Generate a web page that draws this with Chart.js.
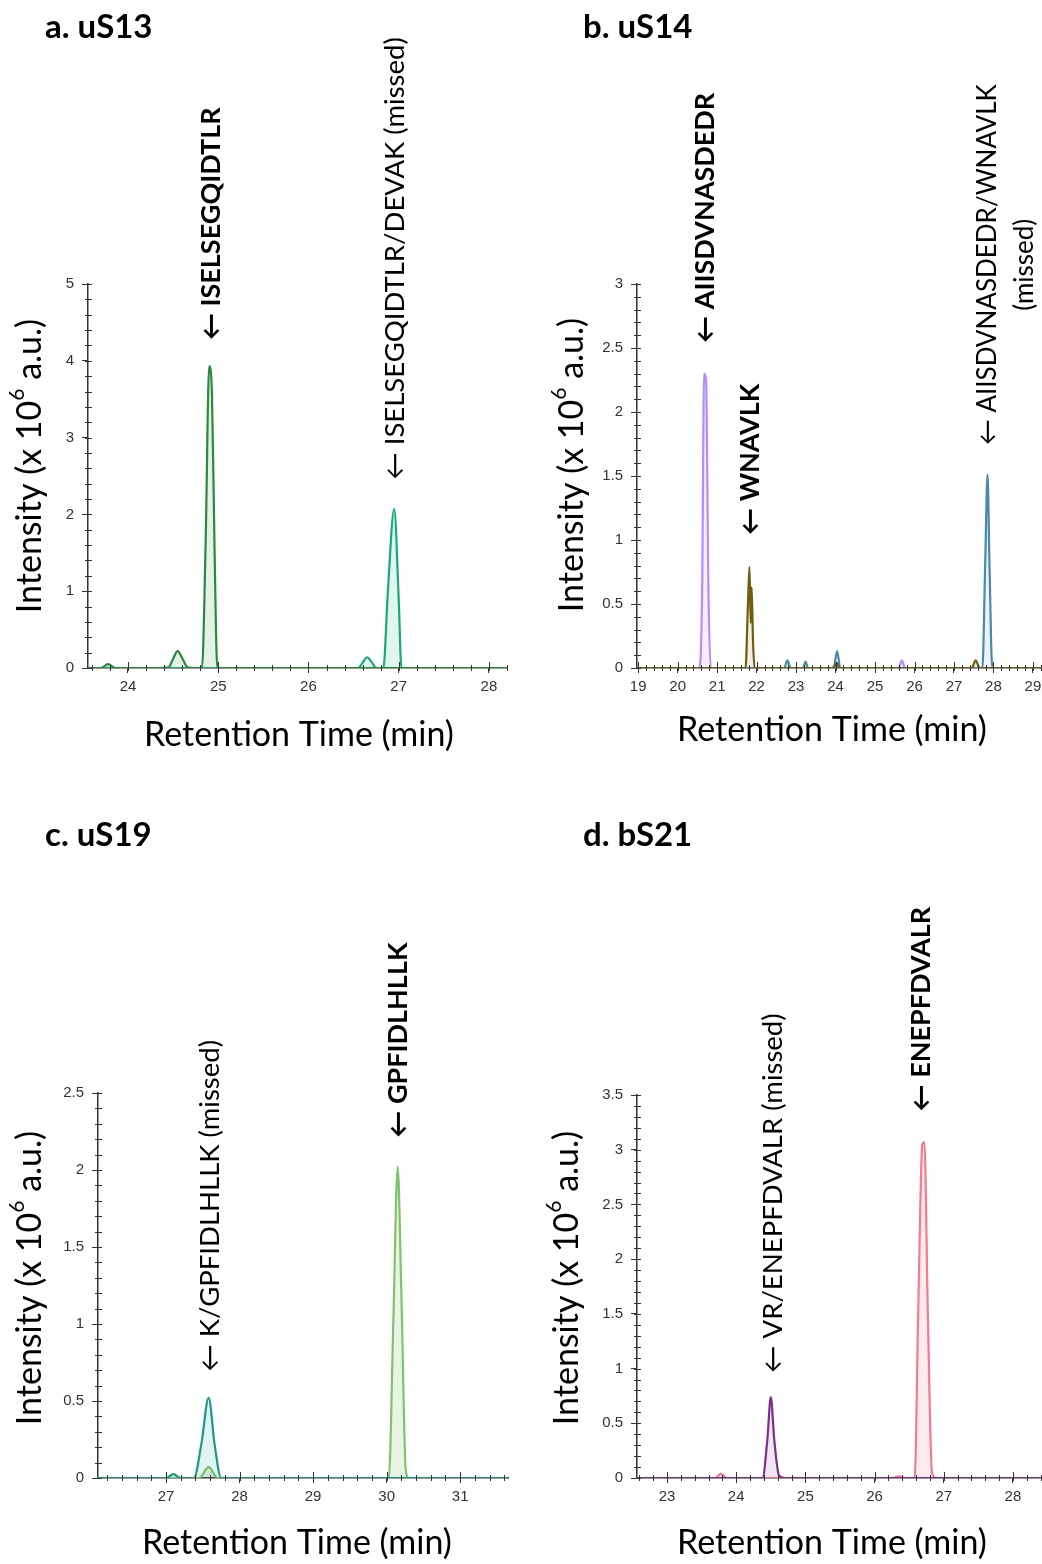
<!DOCTYPE html>
<html>
<head>
<meta charset="utf-8">
<script src="https://cdn.jsdelivr.net/npm/chart.js@4.4.0/dist/chart.umd.min.js"></script>
<style>
  html, body { margin: 0; padding: 0; background: #fff; }
  #wrap { position: relative; width: 1042px; height: 1564px; overflow: hidden; }
  #wrap canvas { position: absolute; }
</style>
</head>
<body>
<div id="wrap">
  <canvas id="panelA" width="521" height="782" style="left:0;top:0"></canvas>
  <canvas id="panelB" width="521" height="782" style="left:521px;top:0"></canvas>
  <canvas id="panelC" width="521" height="782" style="left:0;top:782px"></canvas>
  <canvas id="panelD" width="521" height="782" style="left:521px;top:782px"></canvas>
</div>
<script>
// ---------- a. uS13 ----------
const aTicksX = [24, 25, 26, 27, 28];
const aTicksY = [0, 1, 2, 3, 4, 5];
const aTimeMain = [23.56, 23.7, 23.78, 23.86, 24.0, 24.3, 24.45, 24.5, 24.55, 24.6, 24.66, 24.75, 24.82, 24.86, 24.9, 24.93, 24.96, 24.99, 25.05, 25.5, 26.0, 26.5, 27.0, 27.5, 28.2];
const aIntMain  = [0, 0, 0.05, 0, 0, 0, 0.01, 0.12, 0.22, 0.13, 0.01, 0, 0, 1.6, 3.93, 3.6, 1.5, 0, 0, 0, 0, 0, 0, 0, 0];
const aTimeMissed = [23.56, 24.0, 24.5, 25.0, 25.5, 26.0, 26.55, 26.6, 26.65, 26.7, 26.75, 26.83, 26.88, 26.95, 27.0, 27.03, 27.5, 28.2];
const aIntMissed  = [0, 0, 0, 0, 0, 0, 0, 0.07, 0.14, 0.08, 0, 0, 1.0, 2.07, 0.9, 0, 0, 0];

// ---------- b. uS14 ----------
const bTicksX = [19, 20, 21, 22, 23, 24, 25, 26, 27, 28, 29];
const bTicksY = [0, 0.5, 1, 1.5, 2, 2.5, 3];
const bTimeAiis = [18.97, 20.0, 20.55, 20.62, 20.67, 20.72, 20.78, 20.84, 22.0, 23.9, 24.0, 24.1, 25.6, 25.68, 25.76, 27.0, 29.23];
const bIntAiis  = [0, 0, 0, 0.6, 2.3, 2.25, 0.6, 0, 0, 0, 0.03, 0, 0, 0.06, 0, 0, 0];
const bTimeWnav = [18.97, 20.0, 21.72, 21.78, 21.82, 21.85, 21.875, 21.91, 21.95, 23.0, 23.95, 24.03, 24.1, 26.0, 27.45, 27.55, 27.65, 29.23];
const bIntWnav  = [0, 0, 0, 0.5, 0.79, 0.35, 0.63, 0.2, 0, 0, 0, 0.04, 0, 0, 0, 0.06, 0, 0];
const bTimeMissed = [18.97, 21.0, 22.7, 22.78, 22.86, 23.18, 23.24, 23.3, 23.95, 24.04, 24.12, 26.0, 27.72, 27.79, 27.85, 27.9, 27.97, 29.23];
const bIntMissed  = [0, 0, 0, 0.06, 0, 0, 0.05, 0, 0, 0.13, 0, 0, 0, 0.8, 1.51, 0.8, 0, 0];

// ---------- c. uS19 ----------
const cTicksX = [27, 28, 29, 30, 31];
const cTicksY = [0, 0.5, 1, 1.5, 2, 2.5];
const cTimeMissed = [26.07, 27.0, 27.1, 27.2, 27.38, 27.48, 27.58, 27.66, 27.75, 29.0, 31.65];
const cIntMissed  = [0, 0, 0.025, 0, 0, 0.22, 0.52, 0.22, 0, 0, 0];
const cTimeGpf = [26.07, 27.0, 27.45, 27.58, 27.7, 29.0, 30.03, 30.09, 30.15, 30.2, 30.26, 30.3, 31.65];
const cIntGpf  = [0, 0, 0, 0.07, 0, 0, 0, 1.0, 2.02, 1.2, 0.05, 0, 0];

// ---------- d. bS21 ----------
const dTicksX = [23, 24, 25, 26, 27, 28];
const dTicksY = [0, 0.5, 1, 1.5, 2, 2.5, 3, 3.5];
const dTimeMissed = [22.57, 23.5, 24.38, 24.45, 24.5, 24.55, 24.62, 24.7, 26.0, 28.42];
const dIntMissed  = [0, 0, 0, 0.35, 0.74, 0.35, 0.02, 0, 0, 0];
const dTimeEne = [22.57, 23.7, 23.78, 23.86, 25.0, 26.25, 26.35, 26.45, 26.58, 26.63, 26.69, 26.72, 26.77, 26.83, 26.9, 28.42];
const dIntEne  = [0, 0, 0.04, 0, 0, 0, 0.015, 0, 0, 1.5, 3.05, 3.07, 1.5, 0.05, 0, 0];

// peak labels: text lines, retention time and intensity of the arrow tip
const aLabels = [
  { lines: ['\u2190 ISELSEGQIDTLR'], t: 24.92, v: 4.27, bold: true },
  { lines: ['\u2190 ISELSEGQIDTLR/DEVAK (missed)'], t: 26.96, v: 2.45, bold: false }
];
const bLabels = [
  { lines: ['\u2190 AIISDVNASDEDR'], t: 20.7, v: 2.54, bold: true },
  { lines: ['\u2190 WNAVLK'], t: 21.84, v: 1.04, bold: true },
  { lines: ['\u2190 AIISDVNASDEDR/WNAVLK', '(missed)'], t: 27.86, v: 1.74, bold: false, size: 26 }
];
const cLabels = [
  { lines: ['\u2190 K/GPFIDLHLLK (missed)'], t: 27.6, v: 0.69, bold: false },
  { lines: ['\u2190 GPFIDLHLLK'], t: 30.16, v: 2.21, bold: true }
];
const dLabels = [
  { lines: ['\u2190 VR/ENEPFDVALR (missed)'], t: 24.53, v: 0.96, bold: false },
  { lines: ['\u2190 ENEPFDVALR'], t: 26.68, v: 3.35, bold: true }
];

const FONT = 'Lato, "Open Sans", sans-serif';
const TICK_FONT = '"Liberation Sans", Arial, sans-serif';

function pts(times, vals) {
  return times.map((t, i) => ({ x: t, y: vals[i] }));
}

function trace(times, vals, color, fill) {
  return {
    data: pts(times, vals),
    borderColor: color,
    backgroundColor: fill,
    borderWidth: 2.2,
    fill: 'origin',
    pointRadius: 0,
    cubicInterpolationMode: 'monotone'
  };
}

function drawYTitle(ctx, cx, cy) {
  const big = '34px ' + FONT, small = '21px ' + FONT;
  const parts = [['Intensity (x 10', big, 0], ['6', small, -13], [' a.u.)', big, 0]];
  ctx.save();
  ctx.translate(cx, cy);
  ctx.rotate(-Math.PI / 2);
  ctx.fillStyle = '#000';
  ctx.textBaseline = 'middle';
  ctx.textAlign = 'left';
  let total = 0;
  parts.forEach(p => { ctx.font = p[1]; total += ctx.measureText(p[0]).width; });
  let x = -total / 2;
  parts.forEach(p => {
    ctx.font = p[1];
    ctx.fillText(p[0], x, p[2]);
    x += ctx.measureText(p[0]).width;
  });
  ctx.restore();
}

function makeDecor(panel) {
  return {
    id: 'decor',
    afterDraw(chart) {
      const ctx = chart.ctx;
      const xs = chart.scales.x, ys = chart.scales.y;
      const area = chart.chartArea;
      ctx.save();
      // minor ticks and the inner half of the major ones
      ctx.strokeStyle = '#333';
      ctx.lineWidth = 1;
      ctx.beginPath();
      for (let k = 0; k * panel.yMinor <= ys.max + 1e-9; k++) {
        const py = Math.round(ys.getPixelForValue(k * panel.yMinor)) + 0.5;
        ctx.moveTo(area.left - 3, py);
        ctx.lineTo(area.left + 4, py);
      }
      const x0 = Math.ceil(xs.min / panel.xMinor);
      for (let k = x0; k * panel.xMinor <= xs.max + 1e-9; k++) {
        const px = Math.round(xs.getPixelForValue(k * panel.xMinor)) + 0.5;
        const major = Math.abs(k * panel.xMinor - Math.round(k * panel.xMinor)) < 1e-6;
        ctx.moveTo(px, area.bottom + 3);
        ctx.lineTo(px, area.bottom - (major ? 6 : 3));
      }
      ctx.stroke();

      // panel title
      ctx.fillStyle = '#000';
      ctx.font = 'bold 33px ' + FONT;
      ctx.textAlign = 'left';
      ctx.textBaseline = 'middle';
      ctx.fillText(panel.title, panel.titleX, panel.titleY);

      // x title
      ctx.font = '34px ' + FONT;
      ctx.textAlign = 'center';
      ctx.fillText('Retention Time (min)', panel.xTitleX, panel.xTitleY);
      ctx.restore();

      drawYTitle(ctx, panel.yTitleX, panel.yTitleY);

      // peak labels
      panel.labels.forEach(lb => {
        const px = xs.getPixelForValue(lb.t);
        const py = ys.getPixelForValue(lb.v);
        ctx.save();
        ctx.translate(px, py);
        ctx.rotate(-Math.PI / 2);
        ctx.font = (lb.bold ? 'bold ' : '') + (lb.size || (lb.bold ? 27 : 27.5)) + 'px ' + FONT;
        ctx.fillStyle = '#000';
        ctx.textBaseline = 'middle';
        ctx.textAlign = 'center';
        const w0 = ctx.measureText(lb.lines[0]).width;
        lb.lines.forEach((ln, i) => ctx.fillText(ln, w0 / 2, i * 37));
        ctx.restore();
      });
    }
  };
}

function makeChart(id, panel, datasets) {
  const tickOpts = { font: { family: TICK_FONT, size: 15 }, color: '#333', callback: v => String(v) };
  new Chart(document.getElementById(id), {
    type: 'line',
    data: { datasets: datasets },
    options: {
      responsive: false,
      animation: false,
      layout: { padding: panel.padding },
      plugins: { legend: { display: false }, tooltip: { enabled: false } },
      scales: {
        x: {
          type: 'linear',
          min: panel.xMin, max: panel.xMax,
          border: { color: '#333', width: 1.5 },
          grid: { drawOnChartArea: false, tickLength: 5, color: '#333' },
          ticks: Object.assign({ padding: 5, maxRotation: 0 }, tickOpts),
          afterBuildTicks: s => { s.ticks = panel.ticksX.map(v => ({ value: v })); },
          afterFit: s => { s.height = 40; s.paddingLeft = 0; s.paddingRight = 0; }
        },
        y: {
          min: 0, max: panel.yMax,
          border: { color: '#333', width: 1.5 },
          grid: { drawOnChartArea: false, tickLength: 6, color: '#333' },
          ticks: Object.assign({ padding: 8 }, tickOpts),
          afterBuildTicks: s => { s.ticks = panel.ticksY.map(v => ({ value: v })); },
          afterFit: s => { s.width = 40; s.paddingTop = 0; s.paddingBottom = 0; }
        }
      }
    },
    plugins: [makeDecor(panel)]
  });
}

makeChart('panelA', {
  title: 'a. uS13', titleX: 45, titleY: 27,
  xTitleX: 299, xTitleY: 735, yTitleX: 30, yTitleY: 466,
  padding: { left: 48, right: 14, top: 284, bottom: 74 },
  xMin: 23.557, xMax: 28.2, yMax: 5, xMinor: 0.2, yMinor: 0.2,
  ticksX: aTicksX, ticksY: aTicksY, labels: aLabels
}, [
  trace(aTimeMain, aIntMain, '#2a8a3c', 'rgba(42,138,60,0.12)'),
  trace(aTimeMissed, aIntMissed, '#17a97e', 'rgba(23,169,126,0.12)')
]);

makeChart('panelB', {
  title: 'b. uS14', titleX: 583 - 521, titleY: 27,
  xTitleX: 311, xTitleY: 730, yTitleX: 51, yTitleY: 465,
  padding: { left: 76, right: 0, top: 284, bottom: 74 },
  xMin: 18.97, xMax: 29.23, yMax: 3, xMinor: 0.2, yMinor: 0.1,
  ticksX: bTicksX, ticksY: bTicksY, labels: bLabels
}, [
  trace(bTimeWnav, bIntWnav, '#6e5f0e', 'rgba(110,95,14,0.1)'),
  trace(bTimeMissed, bIntMissed, '#4a88ad', 'rgba(74,136,173,0.1)'),
  trace(bTimeAiis, bIntAiis, '#b48ef7', 'rgba(180,142,247,0.15)')
]);

makeChart('panelC', {
  title: 'c. uS19', titleX: 45, titleY: 53,
  xTitleX: 297, xTitleY: 761, yTitleX: 30, yTitleY: 496,
  padding: { left: 58, right: 13, top: 311, bottom: 46 },
  xMin: 26.075, xMax: 31.65, yMax: 2.5, xMinor: 0.2, yMinor: 0.1,
  ticksX: cTicksX, ticksY: cTicksY, labels: cLabels
}, [
  trace(cTimeMissed, cIntMissed, '#1a9a7e', 'rgba(26,154,126,0.12)'),
  trace(cTimeGpf, cIntGpf, '#7fc46c', 'rgba(127,196,108,0.18)')
]);

makeChart('panelD', {
  title: 'd. bS21', titleX: 583 - 521, titleY: 53,
  xTitleX: 311, xTitleY: 761, yTitleX: 46, yTitleY: 496,
  padding: { left: 76, right: 0, top: 313, bottom: 46 },
  xMin: 22.566, xMax: 28.42, yMax: 3.5, xMinor: 0.2, yMinor: 0.1,
  ticksX: dTicksX, ticksY: dTicksY, labels: dLabels
}, [
  trace(dTimeMissed, dIntMissed, '#7a2f8f', 'rgba(122,47,143,0.12)'),
  trace(dTimeEne, dIntEne, '#f27b90', 'rgba(242,123,144,0.15)')
]);
</script>
</body>
</html>
